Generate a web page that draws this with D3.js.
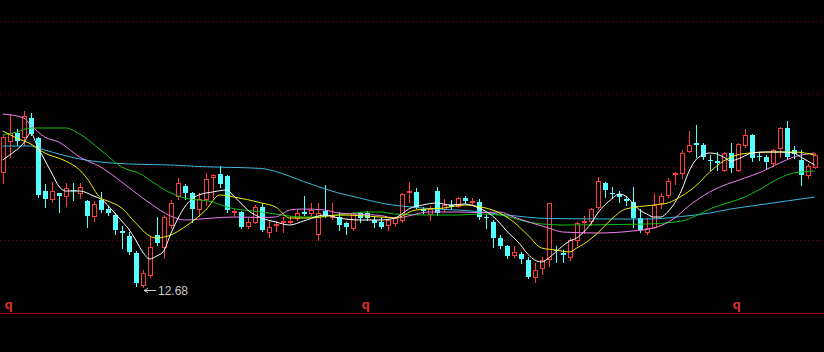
<!DOCTYPE html>
<html>
<head>
<meta charset="utf-8">
<script src="https://cdn.jsdelivr.net/npm/d3@7"></script>
<style>
html, body { margin: 0; padding: 0; background: #000; }
svg { display: block; }
</style>
</head>
<body>
<svg id="chart" width="824" height="352"></svg>
<script>
// daily candles
const openP = [13.83,14.14,14.22,14.18,14.37,14.17,13.64,13.56,13.62,13.59,
  13.655,13.62,13.54,13.39,13.55,13.46,13.40,13.24,13.19,13.02,
  12.70,12.80,13.20,13.08,13.30,13.59,13.69,13.62,13.46,13.56,
  13.78,13.81,13.79,13.43,13.425,13.29,13.33,13.48,13.23,13.30,
  13.335,13.335,13.37,13.43,13.42,13.21,13.44,13.38,13.38,13.32,
  13.27,13.42,13.42,13.35,13.33,13.30,13.32,13.35,13.64,13.63,
  13.46,13.41,13.64,13.46,13.50,13.49,13.57,13.54,13.53,13.385,
  13.33,13.17,13.09,13.00,13.01,12.95,12.78,12.87,12.96,13.055,
  13.02,12.98,13.15,13.33,13.34,13.48,13.72,13.62,13.61,13.56,
  13.53,13.37,13.23,13.28,13.52,13.595,13.81,13.82,14.04,14.12,
  14.10,13.953,13.94,13.85,14.02,13.85,14.10,14.20,13.986,13.98,
  13.92,14.07,14.27,14.05,13.95,13.80,13.88]
const highP = [14.20,14.41,14.26,14.44,14.42,14.18,13.71,13.73,13.62,13.72,
  13.72,13.72,13.55,13.54,13.63,13.49,13.42,13.29,13.23,13.04,
  12.85,13.18,13.38,13.40,13.55,13.77,13.71,13.63,13.62,13.82,
  13.81,13.89,13.80,13.46,13.44,13.37,13.50,13.52,13.35,13.34,
  13.38,13.39,13.45,13.59,13.52,13.52,13.70,13.52,13.43,13.33,
  13.43,13.43,13.44,13.38,13.38,13.36,13.38,13.62,13.73,13.67,
  13.48,13.49,13.68,13.56,13.55,13.58,13.59,13.57,13.56,13.40,
  13.35,13.20,13.10,13.09,13.03,12.98,12.92,12.98,13.52,13.09,
  13.05,13.17,13.33,13.39,13.47,13.78,13.73,13.68,13.64,13.59,
  13.68,13.46,13.37,13.62,13.62,13.77,13.83,14.05,14.24,14.30,
  14.12,14.00,14.03,14.03,14.12,14.12,14.26,14.21,14.03,14.00,
  14.06,14.28,14.34,14.09,14.05,13.91,14.02]
const lowP = [13.72,13.98,14.10,14.10,14.20,13.58,13.48,13.53,13.43,13.49,
  13.55,13.57,13.28,13.34,13.43,13.40,13.21,13.07,13.01,12.69,
  12.68,12.78,13.10,12.97,13.27,13.56,13.56,13.33,13.39,13.50,
  13.58,13.68,13.43,13.40,13.27,13.27,13.32,13.24,13.18,13.24,
  13.23,13.32,13.35,13.40,13.40,13.15,13.38,13.36,13.25,13.21,
  13.25,13.33,13.35,13.28,13.27,13.25,13.29,13.33,13.53,13.47,
  13.42,13.35,13.40,13.44,13.46,13.48,13.52,13.50,13.36,13.27,
  13.08,13.07,12.97,12.98,12.92,12.775,12.73,12.81,12.89,12.93,
  12.93,12.95,13.10,13.22,13.30,13.46,13.58,13.57,13.53,13.50,
  13.28,13.23,13.21,13.27,13.47,13.58,13.71,13.77,14.03,13.98,
  13.96,13.85,13.85,13.84,13.83,13.84,14.08,13.94,13.95,13.86,
  13.89,13.98,13.97,13.97,13.70,13.77,13.87]
const closeP = [14.18,14.22,14.14,14.39,14.21,13.60,13.56,13.64,13.59,13.67,
  13.65,13.68,13.39,13.51,13.45,13.42,13.25,13.22,13.03,12.72,
  12.82,13.08,13.12,13.38,13.52,13.72,13.62,13.46,13.56,13.76,
  13.80,13.71,13.45,13.435,13.28,13.33,13.48,13.25,13.28,13.31,
  13.34,13.34,13.42,13.41,13.45,13.42,13.39,13.39,13.30,13.28,
  13.42,13.37,13.37,13.32,13.28,13.35,13.37,13.61,13.645,13.48,
  13.44,13.46,13.42,13.50,13.48,13.57,13.54,13.545,13.38,13.38,
  13.17,13.09,12.99,13.03,12.96,12.78,12.85,12.95,13.52,13.045,
  13.00,13.15,13.32,13.335,13.46,13.74,13.65,13.614,13.58,13.54,
  13.37,13.25,13.27,13.50,13.59,13.74,13.82,14.02,14.10,14.10,
  13.98,13.95,13.92,14.02,13.87,14.11,14.20,13.97,13.98,13.93,
  14.05,14.27,13.98,14.01,13.80,13.89,14.00]

// moving averages as [candle index, price]
const ma5 = [[0,13.95],[1,14.00],[3,14.12],[4,14.22],[5,14.08],[6,13.95],[7,13.82],[8,13.69],[9,13.64],[11,13.64],
  [13,13.59],[14,13.56],[16,13.42],[17,13.34],[18,13.26],[19,13.15],[20,13.03],[21,12.96],[22,12.99],[23,13.04],
  [24,13.21],[25,13.36],[26,13.48],[28,13.60],[30,13.63],[32,13.65],[33,13.59],[34,13.52],[35,13.45],[37,13.37],
  [39,13.33],[41,13.30],[43,13.34],[46,13.40],[48,13.37],[51,13.35],[54,13.35],[56,13.37],[57,13.41],[58,13.46],
  [60,13.50],[62,13.52],[64,13.50],[66,13.51],[68,13.47],[70,13.39],[71,13.32],[72,13.24],[74,13.10],[75,13.01],
  [77,12.93],[78,12.97],[79,13.03],[80,13.09],[81,13.14],[82,13.17],[83,13.23],[84,13.31],[85,13.42],[86,13.50],
  [87,13.56],[88,13.61],[89,13.59],[90,13.52],[91,13.45],[92,13.41],[93,13.38],[94,13.38],[95,13.43],[96,13.52],
  [97,13.65],[98,13.83],[99,13.95],[100,14.00],[101,14.02],[102,14.01],[103,13.98],[104,13.94],[105,13.96],[106,13.99],
  [107,14.02],[109,14.03],[111,14.03],[113,14.02],[114,13.98],[116,13.90]]
const ma10 = [[0,14.24],[2,14.17],[4,14.11],[6,14.02],[9,13.94],[11,13.85],[12,13.77],[14,13.57],[15,13.54],[17,13.47],
  [19,13.32],[21,13.19],[22,13.17],[24,13.20],[26,13.28],[29,13.45],[31,13.60],[33,13.58],[37,13.52],[39,13.48],
  [41,13.37],[44,13.37],[48,13.40],[54,13.38],[56,13.37],[59,13.45],[63,13.47],[66,13.50],[68,13.485],[71,13.42],
  [73,13.33],[75,13.20],[77,13.07],[79,13.05],[81,13.03],[82,13.07],[83,13.11],[85,13.22],[87,13.36],[89,13.46],
  [93,13.50],[95,13.52],[97,13.59],[99,13.69],[101,13.83],[103,13.94],[106,14.015],[110,14.03],[113,14.03],[116,14.00]]
const ma20 = [[0,14.41],[3,14.37],[4,14.30],[6,14.18],[8,14.13],[11,13.98],[14,13.88],[17,13.73],[20,13.57],[21,13.52],
  [24,13.39],[26,13.35],[30,13.37],[33,13.38],[37,13.375],[39,13.38],[41,13.45],[43,13.46],[46,13.45],[48,13.42],
  [54,13.395],[56,13.37],[61,13.43],[65,13.43],[68,13.425],[71,13.43],[73,13.38],[78,13.27],[80,13.23],[85,13.22],
  [90,13.24],[93,13.27],[96,13.37],[98,13.49],[101,13.63],[106,13.77],[108,13.82],[111,13.92],[113,13.98],[116,14.02]]
const ma30 = [[0,14.20],[2,14.23],[4,14.27],[9,14.27],[11,14.21],[14,14.05],[17,13.88],[20,13.80],[21,13.75],[24,13.62],
  [26,13.57],[30,13.53],[32,13.48],[37,13.43],[43,13.38],[48,13.40],[52,13.43],[54,13.43],[56,13.41],[61,13.40],
  [65,13.40],[68,13.41],[71,13.40],[75,13.33],[80,13.30],[88,13.305],[92,13.31],[97,13.34],[99,13.39],[101,13.46],
  [106,13.58],[108,13.65],[111,13.77],[113,13.82],[116,13.84]]
const ma60 = [[0,14.09],[4,14.09],[5,14.07],[6,14.05],[11,13.96],[18,13.91],[24,13.90],[28,13.885],[37,13.865],[39,13.835],
  [43,13.735],[48,13.62],[51,13.57],[54,13.52],[60,13.47],[67,13.44],[72,13.40],[78,13.365],[88,13.36],[92,13.36],
  [97,13.385],[101,13.42],[104,13.46],[108,13.50],[112,13.54],[116,13.58]]

const gridLevels = [15.34, 14.61, 13.88, 13.15]
const axisLevel = 12.42
const markerIdx = [1, 52, 105]
const markerText = "q"

const width = 824
const height = 352
const upColor = "#ff3c3c"
const downColor = "#54ffff"

const svg = d3.select("#chart")
svg.append("rect").attr("width", width).attr("height", height).attr("fill", "#000")

const x = d3.scaleLinear().domain([0, openP.length - 1]).range([2.7, 814.7])
const y = d3.scaleLinear().domain([axisLevel, 15.34]).range([313, 21])

// dotted grid
const grid = svg.append("g")
    .call(d3.axisRight(y).tickValues(gridLevels).tickSize(width).tickFormat(""))
grid.select(".domain").remove()
grid.selectAll("line")
    .attr("stroke", "#8a0000")
    .attr("stroke-dasharray", "1,3")

// bottom line
svg.append("line")
    .attr("x1", 0).attr("x2", width)
    .attr("y1", Math.round(y(axisLevel)) + 0.5)
    .attr("y2", Math.round(y(axisLevel)) + 0.5)
    .attr("stroke", "#a80000")

const candles = openP.map((o, i) => ({ i: i, o: o, h: highP[i], l: lowP[i], c: closeP[i] }))

const cg = svg.append("g").attr("shape-rendering", "crispEdges")
const bar = cg.selectAll("g").data(candles).join("g")

bar.append("line")
    .attr("x1", d => Math.round(x(d.i)) + 0.5)
    .attr("x2", d => Math.round(x(d.i)) + 0.5)
    .attr("y1", d => Math.round(y(d.h)))
    .attr("y2", d => Math.round(y(d.l)) + 1)
    .attr("stroke", d => d.c >= d.o ? upColor : downColor)

bar.each(function(d) {
    const g = d3.select(this)
    const cx = Math.round(x(d.i))
    const top = Math.round(y(Math.max(d.o, d.c)))
    const bot = Math.round(y(Math.min(d.o, d.c)))
    if (d.c >= d.o) {
        // hollow red body
        g.append("rect")
            .attr("x", cx - 1.5)
            .attr("y", top + 0.5)
            .attr("width", 4)
            .attr("height", Math.max(bot - top, 1))
            .attr("fill", "#000")
            .attr("stroke", upColor)
    } else {
        g.append("rect")
            .attr("x", cx - 2)
            .attr("y", top)
            .attr("width", 5)
            .attr("height", Math.max(bot - top, 1))
            .attr("fill", downColor)
    }
})

// moving averages
const line = d3.line()
    .x(d => x(d[0]))
    .y(d => y(d[1]))
    .curve(d3.curveMonotoneX)

const maList = [
    { data: ma60, color: "#3cb8e0" },
    { data: ma30, color: "#10c010" },
    { data: ma20, color: "#f080f0" },
    { data: ma10, color: "#f0f000" },
    { data: ma5, color: "#ffffff" }
]
svg.append("g").selectAll("path").data(maList).join("path")
    .attr("d", d => line(d.data))
    .attr("fill", "none")
    .attr("stroke", d => d.color)
    .attr("stroke-width", 1)

// markers along the bottom
svg.append("g").selectAll("text").data(markerIdx).join("text")
    .attr("x", d => x(d) - 1)
    .attr("y", Math.round(y(axisLevel)) - 4)
    .attr("text-anchor", "middle")
    .attr("font-family", "Liberation Sans, Arial, sans-serif")
    .attr("font-size", "13px")
    .attr("font-weight", "bold")
    .attr("fill", "#e03030")
    .text(markerText)

// lowest low label
const lowIdx = d3.minIndex(lowP)
const ax = Math.round(x(lowIdx)) + 1
const ay = Math.round(y(lowP[lowIdx])) + 3.5
const ann = svg.append("g")
ann.append("path")
    .attr("d", `M${ax},${ay}H${ax + 12}M${ax},${ay}l4,-2M${ax},${ay}l4,2`)
    .attr("stroke", "#c8c8c8")
    .attr("fill", "none")
ann.append("text")
    .attr("x", ax + 14)
    .attr("y", ay + 4)
    .attr("font-family", "Liberation Sans, Arial, sans-serif")
    .attr("font-size", "12px")
    .attr("fill", "#c8c8c8")
    .text(d3.format(".2f")(lowP[lowIdx]))
</script>
</body>
</html>
